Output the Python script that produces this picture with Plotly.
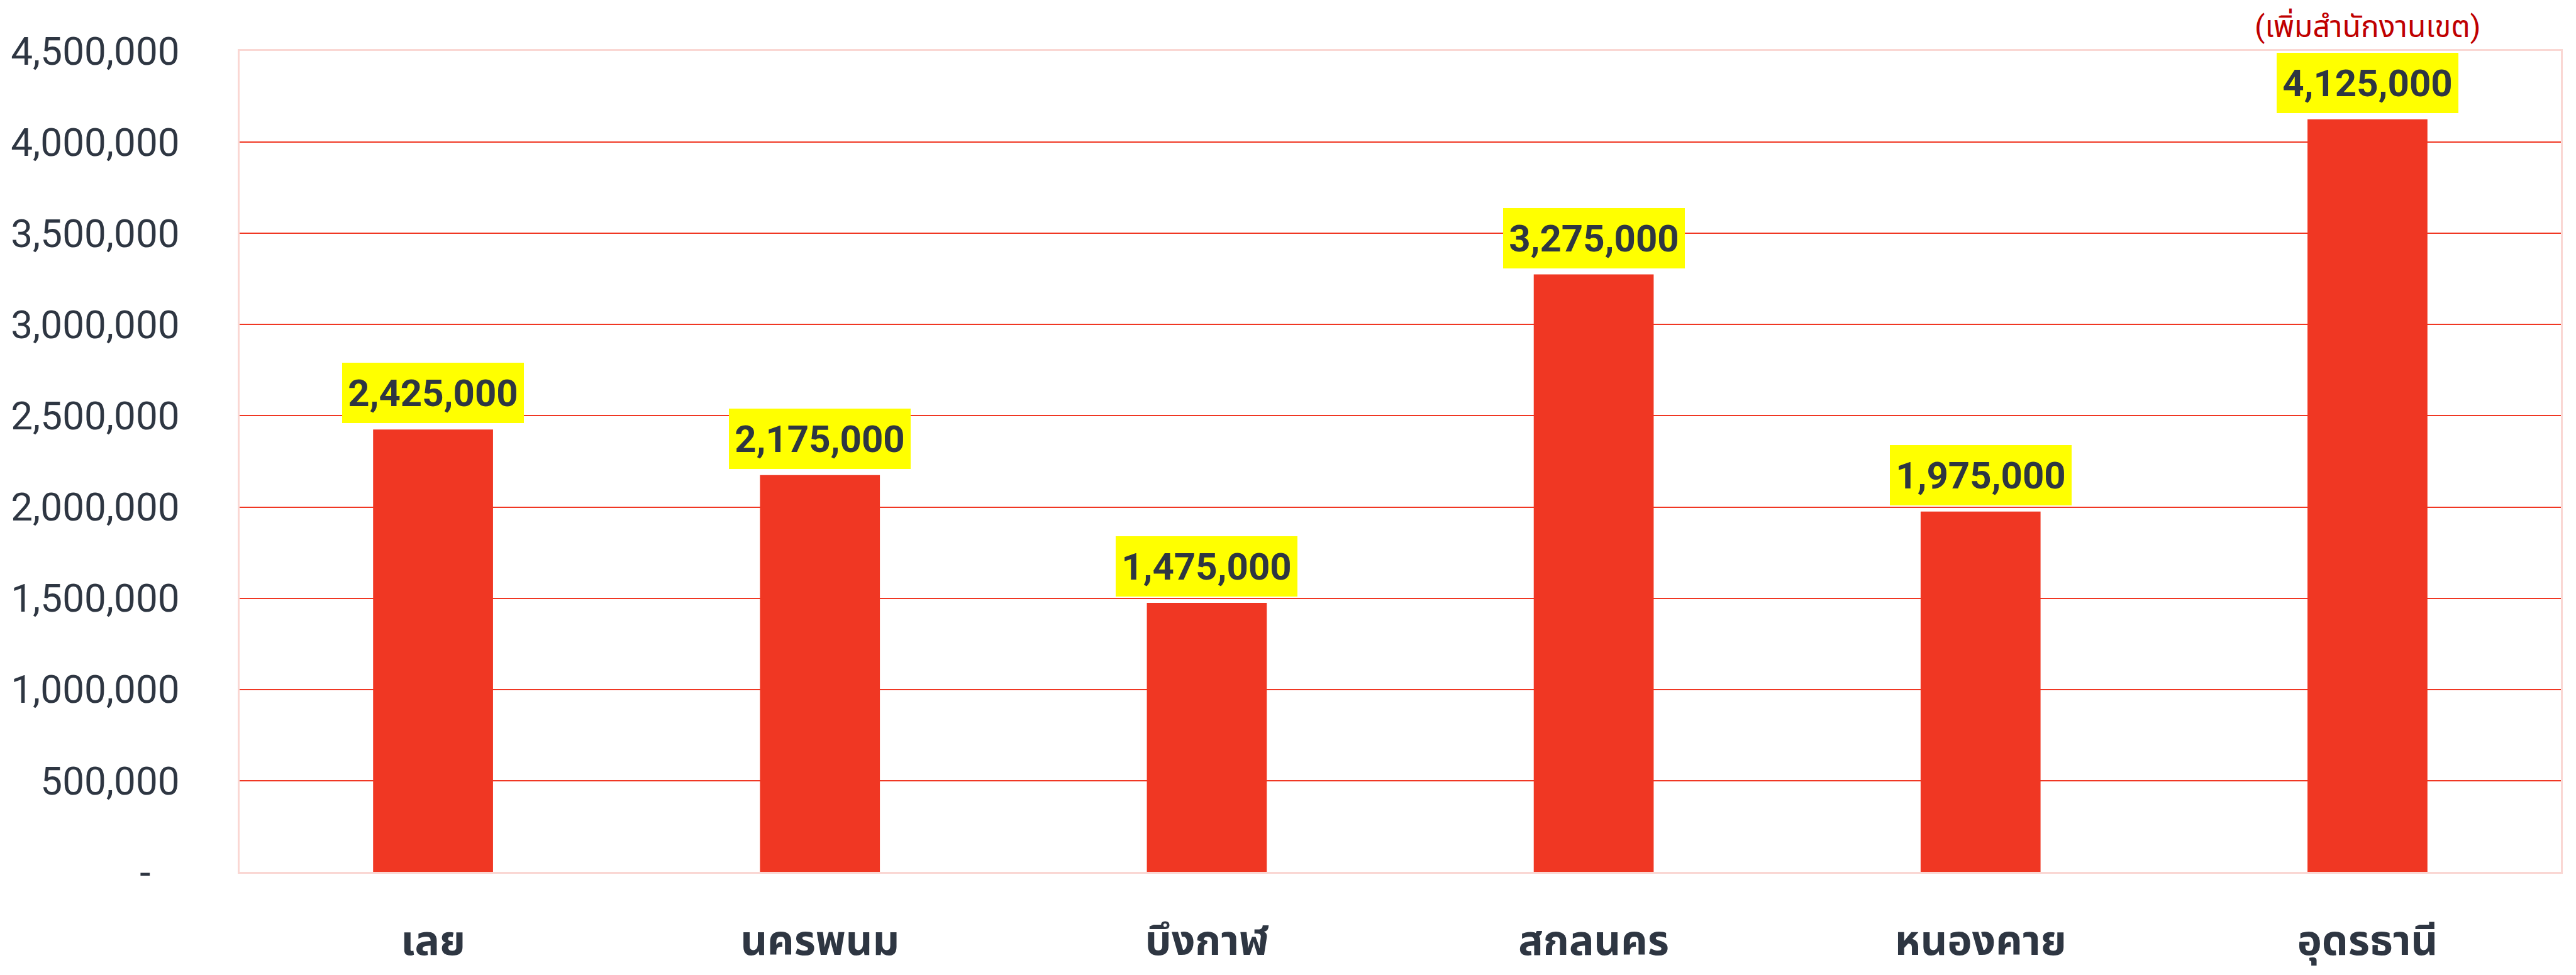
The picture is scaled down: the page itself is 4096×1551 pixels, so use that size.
import plotly.graph_objects as go

categories = ["เลย", "นครพนม", "บึงกาฬ", "สกลนคร", "หนองคาย", "อุดรธานี"]
values = [2425000, 2175000, 1475000, 3275000, 1975000, 4125000]
tick_vals = [0, 500000, 1000000, 1500000, 2000000, 2500000, 3000000, 3500000, 4000000, 4500000]
tick_text = ["-\u00a0\u00a0\u00a0", "500,000", "1,000,000", "1,500,000", "2,000,000",
             "2,500,000", "3,000,000", "3,500,000", "4,000,000", "4,500,000"]
note_text = "(เพิ่มสำนักงานเขต)"
note_category = "อุดรธานี"

BAR = "#F03723"
DARK = "#2E3642"
FONT = "Roboto, 'Noto Sans', 'Noto Sans Thai', sans-serif"

fig = go.Figure()
fig.add_trace(go.Bar(x=categories, y=values, marker=dict(color=BAR, line=dict(width=0)),
                     hoverinfo="skip"))

for c, v in zip(categories, values):
    fig.add_annotation(x=c, y=v, xref="x", yref="y", text=f"<b>{v:,}</b>",
                       showarrow=False, yanchor="bottom", yshift=10,
                       bgcolor="#FFFF00", borderpad=6, borderwidth=0,
                       height=84, width=277, valign="middle",
                       font=dict(family=FONT, size=60, color=DARK))

fig.add_annotation(x=note_category, y=1, xref="x", yref="paper", text=note_text,
                   showarrow=False, yanchor="bottom", yshift=8,
                   font=dict(family=FONT, size=48, color="#C00000"))

fig.update_layout(
    width=4096, height=1551,
    margin=dict(l=373, r=32, t=73, b=172),
    paper_bgcolor="white", plot_bgcolor="white",
    bargap=0.69, showlegend=False,
    font=dict(family=FONT, color=DARK),
)
fig.update_xaxes(showgrid=False, showline=True, linecolor="#FAD7D3", linewidth=3, mirror=True,
                 tickfont=dict(family=FONT, size=66, color=DARK, weight="bold"),
                 ticklabelstandoff=50, ticks="", automargin=False)
fig.update_yaxes(range=[0, 4500000], tickvals=tick_vals, ticktext=tick_text,
                 showgrid=True, gridcolor=BAR, gridwidth=2, zeroline=False,
                 showline=True, linecolor="#FAD7D3", linewidth=3, mirror=True,
                 tickfont=dict(family=FONT, size=62, color=DARK),
                 ticklabelstandoff=80, ticks="", automargin=False)

fig.write_html("out.html")
